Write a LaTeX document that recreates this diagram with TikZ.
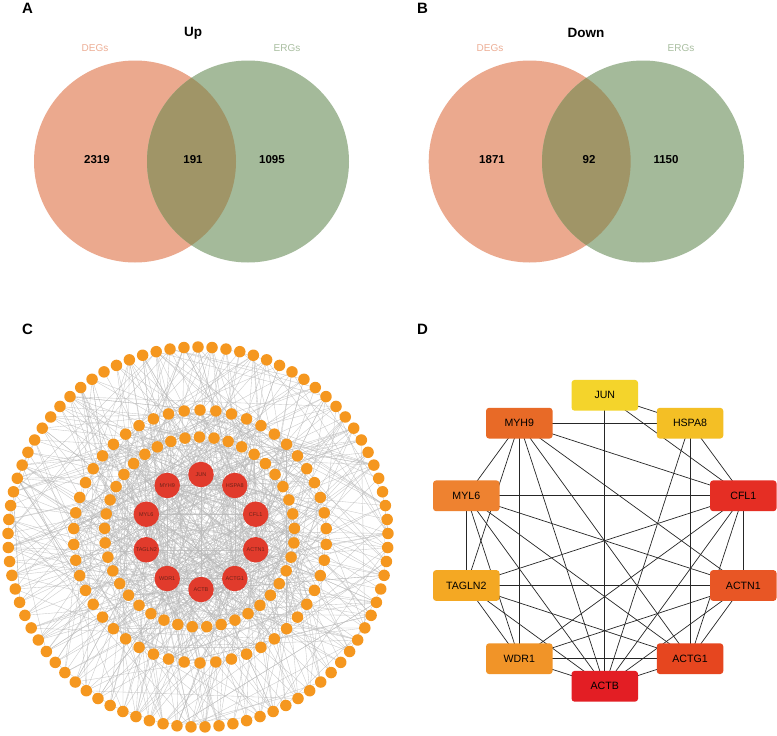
\documentclass[tikz,border=0pt]{standalone}
\usepackage{fontspec}
\setmainfont{Liberation Sans}
\usetikzlibrary{backgrounds}
\definecolor{degc}{HTML}{EBA98E}
\definecolor{ergc}{HTML}{A4BA9A}
\definecolor{ovc}{HTML}{A09567}
\definecolor{degt}{HTML}{EDAE95}
\definecolor{ergt}{HTML}{A9BEA0}
\definecolor{orng}{HTML}{F5971F}
\definecolor{hubc}{HTML}{E13B2C}
\definecolor{hubt}{HTML}{6E2219}
\definecolor{cJUN}{HTML}{F4D42B}
\definecolor{cHSPA}{HTML}{F4BF25}
\definecolor{cMYH}{HTML}{E86A27}
\definecolor{cMYL}{HTML}{EE8230}
\definecolor{cCFL}{HTML}{E52E24}
\definecolor{cTAG}{HTML}{F4A823}
\definecolor{cACN}{HTML}{E85625}
\definecolor{cWDR}{HTML}{F19428}
\definecolor{cACG}{HTML}{E6461F}
\definecolor{cACB}{HTML}{E31E24}
\begin{document}
\begin{tikzpicture}[x=1pt,y=-1pt,
  panel/.style={font=\fontsize{15}{15}\selectfont\bfseries},
  vtitle/.style={font=\fontsize{13.5}{13.5}\selectfont\bfseries},
  setlab/.style={font=\fontsize{10}{10}\selectfont},
  vnum/.style={font=\fontsize{11.5}{11.5}\selectfont\bfseries},
  small/.style={circle,fill=orng,inner sep=0pt,minimum size=11.5pt},
  hub/.style={circle,fill=hubc,inner sep=0pt,minimum size=25.5pt,text=hubt,font=\fontsize{5.5}{5.5}\selectfont},
  gbox/.style={rectangle,rounded corners=3pt,minimum width=66.5pt,minimum height=30.7pt,inner sep=0pt,font=\fontsize{10.6}{10.6}\selectfont},
  pedge/.style={black!27,line width=0.35pt,opacity=0.8},
  hedge/.style={black!85,line width=0.7pt}]
\useasboundingbox (0,0) rectangle (777,736);

% ---------- Panel A ----------
\node[panel] (lA) at (27.5,8) {A};
\node[vtitle] (tA) at (193,33) {Up};
\node[setlab,text=degt] (dA) at (95,48) {DEGs};
\node[setlab,text=ergt] (eA) at (287,48) {ERGs};
\fill[degc] (135,161.5) circle (101);
\fill[ergc] (248,161.5) circle (101);
\begin{scope}
  \clip (135,161.5) circle (101);
  \fill[ovc] (248,161.5) circle (101);
\end{scope}
\node[vnum] (nA1) at (97,160) {2319};
\node[vnum] (nA2) at (193,160) {191};
\node[vnum] (nA3) at (272,160) {1095};

% ---------- Panel B ----------
\node[panel] (lB) at (422.5,8) {B};
\node[vtitle] (tB) at (586,33) {Down};
\node[setlab,text=degt] (dB) at (490,48) {DEGs};
\node[setlab,text=ergt] (eB) at (681,48) {ERGs};
\fill[degc] (529.7,161.5) circle (101);
\fill[ergc] (643,161.5) circle (101);
\begin{scope}
  \clip (529.7,161.5) circle (101);
  \fill[ovc] (643,161.5) circle (101);
\end{scope}
\node[vnum] (nB1) at (492,160) {1871};
\node[vnum] (nB2) at (589,160) {92};
\node[vnum] (nB3) at (666,160) {1150};

% ---------- Panel C ----------
\node[panel] (lC) at (27.5,329) {C};
\foreach \i in {1,...,85}{
  \pgfmathsetmacro\ang{-90+(\i-1)*(360/85)}
  \node[small] (g\i) at ([shift={(198,537)}]\ang:190) {};
}
\foreach \i in {1,...,50}{
  \pgfmathsetmacro\ang{-90+(\i-1)*(360/50)}
  \pgfmathtruncatemacro\j{85+\i}
  \node[small] (g\j) at ([shift={(200,536.5)}]\ang:126.5) {};
}
\foreach \i in {1,...,41}{
  \pgfmathsetmacro\ang{-90+(\i-1)*(360/41)}
  \pgfmathtruncatemacro\j{135+\i}
  \node[small] (g\j) at ([shift={(199.5,532)}]\ang:95) {};
}
\foreach \nm [count=\k from 0] in {JUN,HSPA8,CFL1,ACTN1,ACTG1,ACTB,WDR1,TAGLN2,MYL6,MYH9}{
  \pgfmathsetmacro\ang{-90+36*\k}
  \node[hub] (h\nm) at ([shift={(201,532)}]\ang:57.5) {\nm};
}

% ---------- Panel D ----------
\node[panel] (lD) at (422.5,329) {D};
\node[gbox,fill=cJUN]  (dJUN)   at (604.8,395.3) {JUN};
\node[gbox,fill=cHSPA] (dHSPA8) at (690,423.2) {HSPA8};
\node[gbox,fill=cMYH]  (dMYH9)  at (519.3,423.2) {MYH9};
\node[gbox,fill=cMYL]  (dMYL6)  at (466.3,495.8) {MYL6};
\node[gbox,fill=cCFL]  (dCFL1)  at (743.3,495.8) {CFL1};
\node[gbox,fill=cTAG]  (dTAGLN2) at (466.3,585.5) {TAGLN2};
\node[gbox,fill=cACN]  (dACTN1) at (743.3,585.5) {ACTN1};
\node[gbox,fill=cWDR]  (dWDR1)  at (519.3,658.7) {WDR1};
\node[gbox,fill=cACG]  (dACTG1) at (690,658.7) {ACTG1};
\node[gbox,fill=cACB]  (dACTB)  at (604.8,686.3) {ACTB};

\begin{scope}[on background layer]
  \fill[white] (0,0) rectangle (777,736);
  % panel C edges
  \pgfmathsetseed{7}
  \foreach \k in {1,...,440}{
    \pgfmathrandominteger{\a}{1}{176}
    \pgfmathrandominteger{\b}{1}{176}
    \draw[pedge] (g\a.center) -- (g\b.center);
  }
  \foreach \nm in {JUN,HSPA8,CFL1,ACTN1,ACTG1,ACTB,WDR1,TAGLN2,MYL6,MYH9}{
    \foreach \k in {1,...,24}{
      \pgfmathrandominteger{\a}{1}{176}
      \draw[pedge] (h\nm.center) -- (g\a.center);
    }
  }
  \foreach \u/\v in {JUN/HSPA8,JUN/CFL1,JUN/ACTB,HSPA8/MYH9,HSPA8/ACTB,HSPA8/ACTG1,HSPA8/CFL1,
     MYH9/CFL1,MYH9/MYL6,MYH9/TAGLN2,MYH9/WDR1,MYH9/ACTB,MYH9/ACTG1,MYH9/ACTN1,
     MYL6/CFL1,MYL6/TAGLN2,MYL6/ACTN1,MYL6/WDR1,MYL6/ACTB,MYL6/ACTG1,
     CFL1/TAGLN2,CFL1/WDR1,CFL1/ACTB,CFL1/ACTG1,CFL1/ACTN1,
     TAGLN2/ACTN1,TAGLN2/WDR1,TAGLN2/ACTB,TAGLN2/ACTG1,
     ACTN1/ACTG1,ACTN1/ACTB,ACTN1/WDR1,WDR1/ACTG1,WDR1/ACTB,ACTG1/ACTB}{
    \draw[pedge] (h\u.center) -- (h\v.center);
    \draw[hedge] (d\u.center) -- (d\v.center);
  }
\end{scope}
\end{tikzpicture}
\end{document}
